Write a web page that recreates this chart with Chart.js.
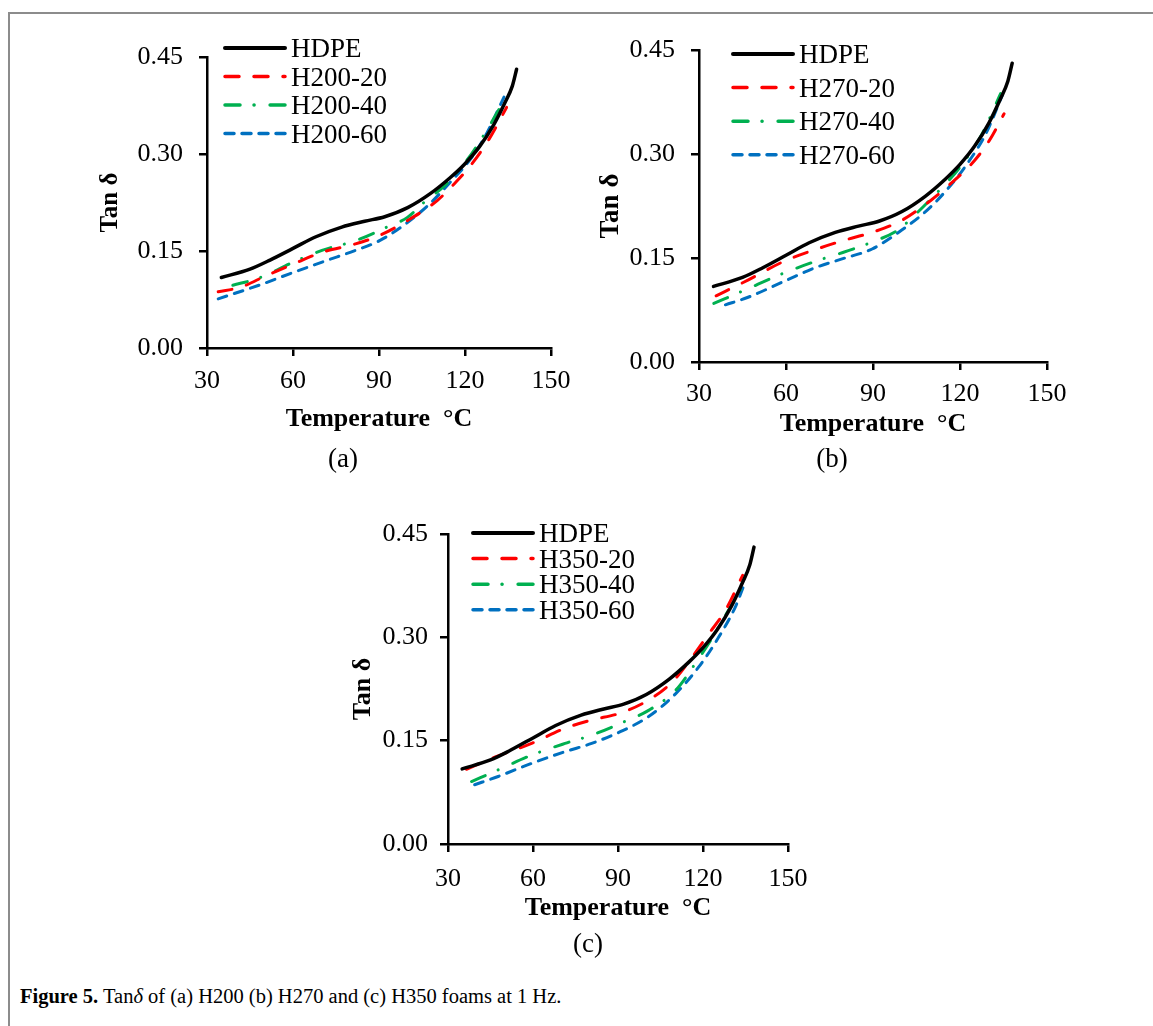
<!DOCTYPE html>
<html>
<head>
<meta charset="utf-8">
<script src="https://cdn.jsdelivr.net/npm/chart.js@4.4.1/dist/chart.umd.min.js"></script>
<style>
  body { margin: 0; background: #fff; }
  #page { position: relative; width: 1153px; height: 1026px; overflow: hidden; font-family: 'Liberation Serif', 'Times New Roman', serif; color: #000; }
  #frame { position: absolute; left: 8px; top: 12px; width: 1200px; height: 1100px; border-left: 2px solid #8c8c8c; border-top: 2px solid #8c8c8c; }
  canvas { position: absolute; }
  .sub { position: absolute; font-size: 27px; transform: translate(-50%, -50%); }
  #caption { position: absolute; left: 20px; top: 985px; font-size: 20.5px; white-space: nowrap; }
</style>
</head>
<body>
<div id="page">
  <div id="frame"></div>
  <canvas id="chartA" width="514" height="441" style="left:77px; top:7px"></canvas>
  <canvas id="chartB" width="518" height="462" style="left:569px; top:0px"></canvas>
  <canvas id="chartC" width="510" height="460" style="left:318px; top:484px"></canvas>
  <div class="sub" style="left:343px; top:458px">(a)</div>
  <div class="sub" style="left:832px; top:458px">(b)</div>
  <div class="sub" style="left:588px; top:943px">(c)</div>
  <div id="caption"><b>Figure 5.</b> Tan<i>δ</i> of (a) H200 (b) H270 and (c) H350 foams at 1 Hz.</div>
</div>

<script>
// valores (temperatura en °C, tan delta)
const tempHDPE = [35, 45, 52, 60, 68, 77, 85, 92, 100, 108, 115, 120, 125, 130, 134, 136.5, 138];
const tanHDPE  = [0.109, 0.122, 0.136, 0.154, 0.172, 0.187, 0.196, 0.203, 0.217, 0.239, 0.264, 0.285, 0.311, 0.345, 0.38, 0.405, 0.431];

const tempH200_20 = [33.9, 41.7, 50.7, 60.2, 70.1, 81.8, 90.2, 99.9, 110.3, 116.7, 121.9, 128.4, 134.5];
const tanH200_20  = [0.087, 0.094, 0.112, 0.130, 0.148, 0.161, 0.174, 0.197, 0.228, 0.256, 0.282, 0.323, 0.372];
const tempH200_40 = [39, 48, 60.2, 70.1, 81.8, 92.8, 99.9, 106.4, 112.9, 120.6, 127.1, 134.2];
const tanH200_40  = [0.097, 0.108, 0.133, 0.151, 0.166, 0.187, 0.202, 0.228, 0.251, 0.290, 0.333, 0.387];
const tempH200_60 = [33.9, 48.1, 60.2, 71.5, 81.8, 90.2, 99.9, 107.7, 115.4, 121.9, 127.7, 133.6];
const tanH200_60  = [0.076, 0.097, 0.117, 0.135, 0.151, 0.166, 0.194, 0.223, 0.259, 0.292, 0.333, 0.388];

const tempH270_20 = [35.9, 45.4, 59.7, 70.7, 79.6, 89.7, 99.8, 109.9, 116.2, 125.1, 130.2, 135.2];
const tanH270_20  = [0.0955, 0.115, 0.146, 0.163, 0.175, 0.187, 0.204, 0.233, 0.255, 0.291, 0.320, 0.358];
const tempH270_40 = [35.1, 45.4, 59.7, 70.7, 79.6, 89.7, 98.5, 104.9, 111.8, 120, 127.6, 134];
const tanH270_40  = [0.0844, 0.103, 0.129, 0.146, 0.158, 0.173, 0.190, 0.214, 0.243, 0.281, 0.329, 0.387];
const tempH270_60 = [39.1, 46.7, 59.7, 70.7, 79.6, 89.7, 99.8, 108.7, 116.2, 122.5, 128.9, 134.6];
const tanH270_60  = [0.0825, 0.093, 0.117, 0.137, 0.149, 0.163, 0.190, 0.219, 0.252, 0.286, 0.329, 0.385];

const tempH350_20 = [36.5, 46.5, 59.5, 71.3, 80.7, 90.8, 100.8, 109.1, 116.1, 122, 127.9, 134];
const tanH350_20  = [0.1085, 0.126, 0.146, 0.168, 0.180, 0.190, 0.209, 0.235, 0.271, 0.305, 0.339, 0.39];
const tempH350_40 = [38.3, 47.7, 59.5, 71.3, 80.7, 90.8, 100.8, 110.3, 117.3, 123.2, 129.1, 133.8];
const tanH350_40  = [0.0907, 0.1076, 0.129, 0.146, 0.158, 0.175, 0.194, 0.223, 0.262, 0.299, 0.340, 0.373];
const tempH350_60 = [39.4, 47.7, 59.5, 71.3, 80.7, 90.8, 100.8, 110.3, 118.5, 125.5, 131.4, 134.4];
const tanH350_60  = [0.086, 0.098, 0.117, 0.134, 0.146, 0.163, 0.185, 0.218, 0.257, 0.300, 0.344, 0.375];

const xTicks = [30, 60, 90, 120, 150];
const yTicks = [0, 0.15, 0.30, 0.45];

Chart.defaults.font.family = "'Liberation Serif', 'Times New Roman', serif";
Chart.defaults.color = '#000';

// estilos de linea como en excel
const styles = [
  { color: '#000000', width: 3.5, dash: [] },
  { color: '#ff0000', width: 3, dash: [14, 15] },
  { color: '#00b050', width: 3, dash: [15, 14, 0.1, 16] },
  { color: '#0070c0', width: 3, dash: [9, 8] }
];

function pts(t, v) {
  return t.map((x, i) => ({ x: x, y: v[i] }));
}

// leyenda dibujada dentro del grafico, arriba a la izquierda
const seriesKey = {
  id: 'seriesKey',
  afterDatasetsDraw(chart, args, opts) {
    const ctx = chart.ctx;
    const ca = chart.chartArea;
    chart.data.datasets.forEach((ds, i) => {
      const y = ca.top + opts.dy + i * opts.gap;
      const x1 = ca.left + opts.dx;
      const x2 = x1 + 60;
      ctx.save();
      ctx.strokeStyle = ds.borderColor;
      ctx.lineWidth = ds.borderWidth + 0.5;
      ctx.lineCap = 'round';
      ctx.setLineDash(ds.borderDash);
      ctx.beginPath();
      ctx.moveTo(x1, y);
      ctx.lineTo(x2, y);
      ctx.stroke();
      ctx.setLineDash([]);
      ctx.fillStyle = '#000';
      ctx.font = "27px 'Liberation Serif'";
      ctx.textBaseline = 'alphabetic';
      ctx.fillText(ds.label, x2 + 6, y + 9);
      ctx.restore();
    });
  }
};

function makeChart(id, names, temps, tans, lay) {
  const datasets = names.map((n, i) => ({
    label: n,
    data: pts(temps[i], tans[i]),
    borderColor: styles[i].color,
    borderWidth: styles[i].width,
    borderDash: styles[i].dash,
    borderCapStyle: 'round',
    borderJoinStyle: 'round',
    pointRadius: 0,
    fill: false,
    cubicInterpolationMode: 'monotone'
  }));

  return new Chart(document.getElementById(id), {
    type: 'line',
    data: { datasets: datasets },
    options: {
      responsive: false,
      animation: false,
      layout: { padding: { left: 0, top: 50, right: 40, bottom: 0 } },
      plugins: {
        legend: { display: false },
        tooltip: { enabled: false },
        seriesKey: { dx: lay.keyDx, dy: lay.keyDy, gap: lay.keyGap }
      },
      scales: {
        x: {
          type: 'linear',
          min: 30,
          max: 150,
          afterBuildTicks: s => { s.ticks = xTicks.map(v => ({ value: v })); },
          afterFit: s => { s.height = 100; },
          ticks: { color: '#000', padding: lay.xTickPad, font: { size: 26 } },
          grid: { drawOnChartArea: false, color: '#000', lineWidth: 2.5, tickLength: 8 },
          border: { color: '#000', width: 2.5 },
          title: {
            display: true,
            text: 'Temperature  °C',
            color: '#000',
            font: { size: 26, weight: 'bold' },
            padding: { top: 0, bottom: lay.xTitlePad }
          }
        },
        y: {
          min: 0,
          max: 0.45,
          afterBuildTicks: s => { s.ticks = yTicks.map(v => ({ value: v })); },
          afterFit: s => { s.width = 130; },
          ticks: { color: '#000', padding: lay.yTickPad, font: { size: 26 }, callback: v => v.toFixed(2) },
          grid: { drawOnChartArea: false, color: '#000', lineWidth: 2.5, tickLength: 8 },
          border: { color: '#000', width: 2.5 },
          title: {
            display: true,
            text: 'Tan δ',
            color: '#000',
            font: { size: lay.yTitleSize, weight: 'bold' },
            padding: { top: lay.yTitlePad, bottom: 0 }
          }
        }
      }
    },
    plugins: [seriesKey]
  });
}

makeChart('chartA',
  ['HDPE', 'H200-20', 'H200-40', 'H200-60'],
  [tempHDPE, tempH200_20, tempH200_40, tempH200_60],
  [tanHDPE, tanH200_20, tanH200_40, tanH200_60],
  { keyDx: 18, keyDy: -9, keyGap: 28.5, xTickPad: 10, xTitlePad: 13, yTickPad: 16, yTitleSize: 25, yTitlePad: 18.5 });

makeChart('chartB',
  ['HDPE', 'H270-20', 'H270-40', 'H270-60'],
  [tempHDPE, tempH270_20, tempH270_40, tempH270_60],
  [tanHDPE, tanH270_20, tanH270_40, tanH270_60],
  { keyDx: 34, keyDy: 4, keyGap: 33.6, xTickPad: 9, xTitlePad: 22, yTickPad: 16, yTitleSize: 27, yTitlePad: 26 });

makeChart('chartC',
  ['HDPE', 'H350-20', 'H350-40', 'H350-60'],
  [tempHDPE, tempH350_20, tempH350_40, tempH350_60],
  [tanHDPE, tanH350_20, tanH350_40, tanH350_60],
  { keyDx: 25, keyDy: -1, keyGap: 25.6, xTickPad: 12, xTitlePad: 20, yTickPad: 12, yTitleSize: 26, yTitlePad: 30 });
</script>
</body>
</html>
